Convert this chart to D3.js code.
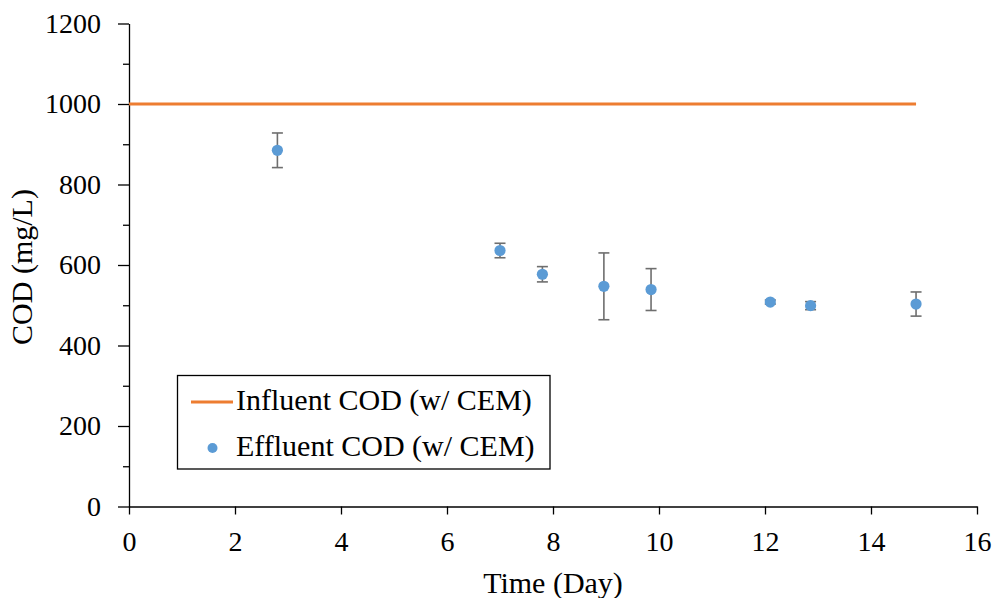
<!DOCTYPE html>
<html>
<head>
<meta charset="utf-8">
<script src="https://cdn.jsdelivr.net/npm/d3@7/dist/d3.min.js"></script>
<style>
  html, body { margin: 0; padding: 0; background: #fff; }
  svg text { font-family: "Liberation Serif", "Times New Roman", serif; fill: #000; }
</style>
</head>
<body>
<svg id="chart" width="994" height="598"></svg>
<script>
// Effluent COD measurements (mean ± error) and the constant influent level
const days      = [2.8, 7.0, 7.8, 8.96, 9.85, 12.1, 12.86, 14.85];
const effluent  = [885, 636, 577, 547, 539, 508, 499, 503];
const errors    = [43, 18, 19, 83, 52, 5, 10, 30];
const influentDays = [0, 14.85];
const influent     = [1000, 1000];
const xTicks = [0, 2, 4, 6, 8, 10, 12, 14, 16];
const yTicks = [0, 200, 400, 600, 800, 1000, 1200];
const yMinorTicks = [100, 300, 500, 700, 900, 1100];
const seriesNames = ["Influent COD (w/ CEM)", "Effluent COD (w/ CEM)"];

const svg = d3.select("#chart");
const margin = { left: 129, right: 17, top: 23.5, bottom: 91.5 };
const W = 994, H = 598;

const x = d3.scaleLinear().domain([0, 16]).range([margin.left, W - margin.right]);
const y = d3.scaleLinear().domain([0, 1200]).range([H - margin.bottom, margin.top]);

const orange = "#ED7D31", blue = "#5B9BD5", errColor = "#6e6e6e";
const fmt = d3.format("d");

// Y axis with major and minor ticks
svg.append("g").attr("transform", `translate(${margin.left},0)`)
  .call(d3.axisLeft(y).tickValues(yTicks).tickFormat(fmt).tickSize(11).tickPadding(17).tickSizeOuter(0));
svg.append("g").attr("transform", `translate(${margin.left},0)`)
  .call(d3.axisLeft(y).tickValues(yMinorTicks).tickSize(6).tickFormat("").tickSizeOuter(0))
  .select(".domain").remove();

// X axis
svg.append("g").attr("transform", `translate(0,${y(0)})`)
  .call(d3.axisBottom(x).tickValues(xTicks).tickFormat(fmt).tickSize(8).tickPadding(17).tickSizeOuter(0));

svg.selectAll(".tick text").style("font-size", "28px").style("font-family", "'Liberation Serif', serif").attr("fill", "#000");
svg.selectAll(".domain, .tick line").attr("stroke", "#000").attr("stroke-width", 1.3);

// Axis titles
svg.append("text").attr("x", x(8)).attr("y", 593).attr("text-anchor", "middle")
  .style("font-size", "30px").text("Time (Day)");
svg.append("text").attr("transform", `translate(32,${y(600) + 2}) rotate(-90)`).attr("text-anchor", "middle")
  .style("font-size", "30px").text("COD (mg/L)");

// Influent line
const line = d3.line().x((d, i) => x(influentDays[i])).y(d => y(d));
svg.append("path").datum(influent).attr("d", line)
  .attr("fill", "none").attr("stroke", orange).attr("stroke-width", 3);

// Error bars
const eb = svg.append("g").attr("stroke", errColor).attr("stroke-width", 1.6);
days.forEach((d, i) => {
  const lo = y(effluent[i] - errors[i]), hi = y(effluent[i] + errors[i]), cx = x(d);
  eb.append("line").attr("x1", cx).attr("x2", cx).attr("y1", lo).attr("y2", hi);
  eb.append("line").attr("x1", cx - 5.5).attr("x2", cx + 5.5).attr("y1", lo).attr("y2", lo);
  eb.append("line").attr("x1", cx - 5.5).attr("x2", cx + 5.5).attr("y1", hi).attr("y2", hi);
});

// Effluent points
svg.append("g").selectAll("circle").data(days).join("circle")
  .attr("cx", d => x(d)).attr("cy", (d, i) => y(effluent[i])).attr("r", 5.6).attr("fill", blue);

// Legend
const lg = svg.append("g");
lg.append("rect").attr("x", 177.5).attr("y", 375.5).attr("width", 372.5).attr("height", 93.5)
  .attr("fill", "#fff").attr("stroke", "#000").attr("stroke-width", 1.3);
lg.append("line").attr("x1", 191).attr("x2", 233).attr("y1", 402).attr("y2", 402)
  .attr("stroke", orange).attr("stroke-width", 3);
lg.append("circle").attr("cx", 212.5).attr("cy", 448).attr("r", 5).attr("fill", blue);
lg.append("text").attr("x", 236).attr("y", 410).style("font-size", "30px").text(seriesNames[0]);
lg.append("text").attr("x", 236).attr("y", 456).style("font-size", "30px").text(seriesNames[1]);
</script>
</body>
</html>
